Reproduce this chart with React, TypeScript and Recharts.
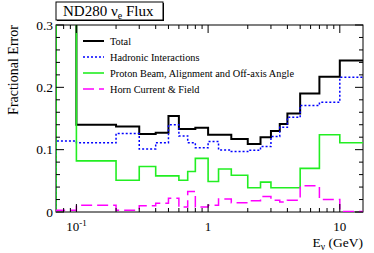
import React from 'react';
import { LineChart, Line, XAxis, YAxis, Legend } from 'recharts';

// bin edges in GeV (last bin runs to 30 GeV)
const binEdges = [0, 0.1, 0.2, 0.3, 0.4, 0.5, 0.6, 0.7, 0.8, 1.0, 1.2, 1.5, 2.0, 2.5, 3.0, 3.5, 4.0, 5.0, 7.0, 10, 30];

const totalErr = [0.45, 0.140, 0.137, 0.125, 0.127, 0.154, 0.133, 0.133, 0.135, 0.124, 0.124, 0.117, 0.109, 0.120, 0.130, 0.141, 0.158, 0.190, 0.217, 0.243];
const hadronErr = [0.114, 0.111, 0.126, 0.101, 0.111, 0.140, 0.122, 0.111, 0.103, 0.113, 0.0995, 0.097, 0.099, 0.105, 0.121, 0.136, 0.152, 0.171, 0.176, 0.216];
const beamErr = [0.43, 0.082, 0.051, 0.073, 0.058, 0.058, 0.051, 0.065, 0.086, 0.049, 0.069, 0.059, 0.039, 0.048, 0.039, 0.039, 0.039, 0.070, 0.124, 0.111];
const hornErr = [0.003, 0.011, 0.003, 0.010, 0.014, 0.022, 0.008, 0.033, 0.008, 0.011, 0.021, 0.015, 0.018, 0.025, 0.019, 0.016, 0.019, 0.042, 0.020, 0.001];

const xMajorTicks = [0.1, 1, 10];
const xMinorTicks = [0.08, 0.09, 0.2, 0.3, 0.4, 0.5, 0.6, 0.7, 0.8, 0.9, 2, 3, 4, 5, 6, 7, 8, 9];
const yMajorTicks = [0, 0.1, 0.2, 0.3];
const yMinorTicks = [0.02, 0.04, 0.06, 0.08, 0.12, 0.14, 0.16, 0.18, 0.22, 0.24, 0.26, 0.28];

const series = [
  { key: 'total', name: 'Total', color: '#000000', width: 2, dash: undefined },
  { key: 'hadron', name: 'Hadronic Interactions', color: '#0000ff', width: 1.5, dash: '2 2' },
  { key: 'beam', name: 'Proton Beam, Alignment and Off-axis Angle', color: '#22ee22', width: 1.6, dash: undefined },
  { key: 'horn', name: 'Horn Current & Field', color: '#ff00ff', width: 1.5, dash: '11 5' },
];

const X_MIN = 0.07;
const X_MAX = 15;
const W = 374;
const H = 253;
const PLOT_LEFT = 56;
const PLOT_RIGHT = 363;
const PLOT_TOP = 25;
const PLOT_BOTTOM = 212;
const serif = { fontFamily: "'Liberation Serif', serif" };

const valuesAt = (i: number) => {
  const b = Math.min(i, totalErr.length - 1);
  return { total: totalErr[b], hadron: hadronErr[b], beam: beamErr[b], horn: hornErr[b] };
};

const data = [
  { e: X_MIN, total: 0, hadron: 0, beam: 0, horn: 0 },
  ...binEdges.map((edge, i) => ({ e: Math.max(edge, X_MIN), ...valuesAt(i) })),
];

const XTick = (props: any) => {
  const { x, payload } = props;
  const v = payload.value;
  const major = xMajorTicks.includes(v);
  const len = major ? 8 : 4;
  return (
    <g>
      <line x1={x} x2={x} y1={PLOT_BOTTOM} y2={PLOT_BOTTOM - len} stroke="#000" strokeWidth={1} />
      <line x1={x} x2={x} y1={PLOT_TOP} y2={PLOT_TOP + len} stroke="#000" strokeWidth={1} />
      {major && v === 0.1 && (
        <text x={x} y={231} textAnchor="middle" style={serif} fontSize={13} fill="#000">
          10<tspan dy={-5} fontSize={9}>-1</tspan>
        </text>
      )}
      {major && v !== 0.1 && (
        <text x={x} y={231} textAnchor="middle" style={serif} fontSize={13} fill="#000">
          {String(v)}
        </text>
      )}
    </g>
  );
};

const YTick = (props: any) => {
  const { y, payload } = props;
  const v = payload.value;
  const major = yMajorTicks.includes(v);
  const len = major ? 8 : 4;
  return (
    <g>
      <line x1={PLOT_LEFT} x2={PLOT_LEFT + len} y1={y} y2={y} stroke="#000" strokeWidth={1} />
      <line x1={PLOT_RIGHT} x2={PLOT_RIGHT - len} y1={y} y2={y} stroke="#000" strokeWidth={1} />
      {major && (
        <text x={53} y={y + 4.5} textAnchor="end" style={serif} fontSize={13.5} fill="#000">
          {String(v)}
        </text>
      )}
    </g>
  );
};

const renderLegend = () => (
  <svg width={240} height={66} style={{ overflow: 'visible' }}>
    {series.map((s, i) => (
      <g key={s.key}>
        <line x1={0} x2={21} y1={8 + i * 16} y2={8 + i * 16} stroke={s.color} strokeWidth={s.width} strokeDasharray={s.dash} />
        <text x={27} y={12 + i * 16} style={serif} fontSize={10.3} fill="#000">
          {s.name}
        </text>
      </g>
    ))}
  </svg>
);

export default function App() {
  return (
    <div style={{ position: 'absolute', left: 0, top: 0, width: W, height: H, background: '#fff', ...serif }}>
      <svg width={W} height={H} style={{ position: 'absolute', left: 0, top: 0 }}>
        <rect x={PLOT_LEFT} y={PLOT_TOP} width={PLOT_RIGHT - PLOT_LEFT} height={PLOT_BOTTOM - PLOT_TOP} fill="none" stroke="#000" strokeWidth={1} />
        <rect x={57} y={3} width={107} height={18} fill="#000" />
        <rect x={56} y={2} width={107} height={18} fill="#fff" stroke="#000" strokeWidth={1} />
        <text x={63} y={16} style={serif} fontSize={15} fill="#000">
          ND280 ν<tspan dy={3} fontSize={10}>e</tspan><tspan dy={-3}> Flux</tspan>
        </text>
        <text x={13} y={70} transform="rotate(-90 13 70)" textAnchor="middle" dominantBaseline="central" style={serif} fontSize={14} fill="#000">
          Fractional Error
        </text>
        <text x={363} y={247} textAnchor="end" style={serif} fontSize={13.5} fill="#000">
          E<tspan dy={3} fontSize={9.5}>ν</tspan><tspan dy={-3}> (GeV)</tspan>
        </text>
      </svg>
      <div style={{ position: 'absolute', left: 0, top: 0 }}>
        <LineChart width={W} height={H} data={data} margin={{ top: PLOT_TOP, right: W - PLOT_RIGHT, bottom: H - PLOT_BOTTOM - 30, left: 0 }}>
          <XAxis
            dataKey="e"
            type="number"
            scale="log"
            domain={[X_MIN, X_MAX]}
            allowDataOverflow
            ticks={[...xMinorTicks, ...xMajorTicks].sort((a, b) => a - b)}
            interval={0}
            tick={<XTick />}
            tickLine={false}
            axisLine={false}
            height={30}
          />
          <YAxis
            type="number"
            domain={[0, 0.3]}
            allowDataOverflow
            ticks={[...yMinorTicks, ...yMajorTicks].sort((a, b) => a - b)}
            interval={0}
            tick={<YTick />}
            tickLine={false}
            axisLine={false}
            width={PLOT_LEFT}
          />
          <Legend
            layout="vertical"
            align="center"
            verticalAlign="middle"
            wrapperStyle={{ left: 83, top: 33, width: 240, height: 66 }}
            content={renderLegend}
          />
          {series.map((s) => (
            <Line
              key={s.key}
              type="stepAfter"
              dataKey={s.key}
              name={s.name}
              stroke={s.color}
              strokeWidth={s.width}
              strokeDasharray={s.dash}
              dot={false}
              isAnimationActive={false}
            />
          ))}
        </LineChart>
      </div>
    </div>
  );
}
